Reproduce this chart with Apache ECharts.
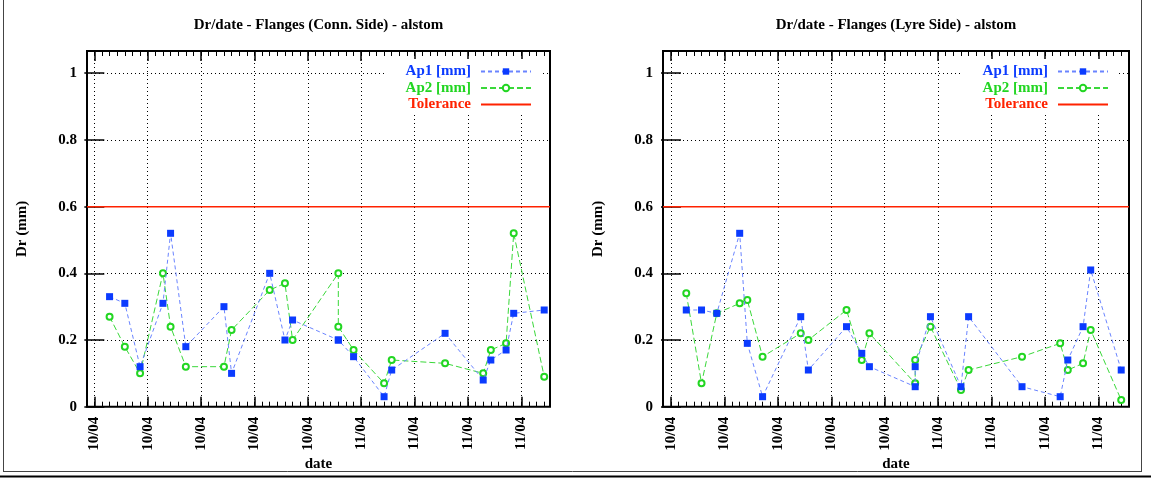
<!DOCTYPE html>
<html>
<head>
<meta charset="utf-8">
<script src="https://cdn.jsdelivr.net/npm/echarts@6/dist/echarts.min.js"></script>
<style>
  html, body { margin: 0; padding: 0; background: #fff; }
  #chart { width: 1151px; height: 478px; }
</style>
</head>
<body>
<div id="chart"></div>
<script>
// Measurement dates, as day offsets from the first labelled week tick
const days = [2, 4, 6, 9, 10, 12, 17, 18, 23, 25, 26, 32, 32, 34, 38, 39, 46, 51, 52, 54, 55, 59];

// Connection-side flanges (mm)
const connAp1 = [0.33, 0.31, 0.12, 0.31, 0.52, 0.18, 0.30, 0.10, 0.40, 0.20, 0.26, 0.20, 0.20, 0.15, 0.03, 0.11, 0.22, 0.08, 0.14, 0.17, 0.28, 0.29];
const connAp2 = [0.27, 0.18, 0.10, 0.40, 0.24, 0.12, 0.12, 0.23, 0.35, 0.37, 0.20, 0.40, 0.24, 0.17, 0.07, 0.14, 0.13, 0.10, 0.17, 0.19, 0.52, 0.09];

// Lyre-side flanges (mm)
const lyreAp1 = [0.29, 0.29, 0.28, 0.52, 0.19, 0.03, 0.27, 0.11, 0.24, 0.16, 0.12, 0.06, 0.12, 0.27, 0.06, 0.27, 0.06, 0.03, 0.14, 0.24, 0.41, 0.11];
const lyreAp2 = [0.34, 0.07, 0.28, 0.31, 0.32, 0.15, 0.22, 0.20, 0.29, 0.14, 0.22, 0.07, 0.14, 0.24, 0.05, 0.11, 0.15, 0.19, 0.11, 0.13, 0.23, 0.02];

const tolerance = 0.6;

// Weekly major ticks and their labels
const tickDays = [0, 7, 14, 21, 28, 35, 42, 49, 56];
const tickLabels = ['10/04', '10/04', '10/04', '10/04', '10/04', '11/04', '11/04', '11/04', '11/04'];
const yTicks = [0, 0.2, 0.4, 0.6, 0.8, 1];

const FONT = "'Liberation Serif', 'DejaVu Serif', serif";
const C_AP1 = '#0b3bff', C_AP1_LINE = '#6a84ff';
const C_AP2 = '#22d622', C_AP2_LINE = '#3ad83a';
const C_TOL = '#ff2200';
const NAME1 = 'Ap1 [mm]', NAME2 = 'Ap2 [mm]', NAME3 = 'Tolerance';

const panels = [
  { title: 'Dr/date - Flanges (Conn. Side) - alstom', ap1: connAp1, ap2: connAp2,
    xMin: -0.96, xMax: 59.76, left: 87, width: 463, legendRight: 610 },
  { title: 'Dr/date - Flanges (Lyre Side) - alstom', ap1: lyreAp1, ap2: lyreAp2,
    xMin: -1.05, xMax: 60.02, left: 663, width: 466, legendRight: 33 }
];
const GRID_TOP = 51, GRID_H = 355.7, Y_MAX = 1.0667;

const grids = [], xAxes = [], yAxes = [], series = [], legends = [], graphics = [];

panels.forEach((p, i) => {
  const minorDays = [];
  for (let d = Math.ceil(p.xMin); d <= Math.floor(p.xMax); d++) minorDays.push(d);

  grids.push({
    left: p.left, top: GRID_TOP, width: p.width, height: GRID_H,
    show: true, borderColor: '#000', borderWidth: 2, backgroundColor: 'transparent',
    containLabel: false, outerBoundsMode: 'none'
  });

  const baseX = {
    type: 'value', gridIndex: i, min: p.xMin, max: p.xMax,
    axisLine: { show: false }, splitLine: { show: false },
    axisLabel: { show: false }, axisTick: { show: false }
  };
  // bottom: major ticks, labels, grid lines
  xAxes.push(Object.assign({}, baseX, {
    position: 'bottom',
    axisTick: { show: true, inside: true, length: 10, customValues: tickDays,
      lineStyle: { color: '#000', width: 1.5 } },
    axisLabel: { show: true, customValues: tickDays, rotate: 90, margin: 10,
      color: '#000', fontFamily: FONT, fontWeight: 'bold', fontSize: 15,
      formatter: v => tickLabels[tickDays.indexOf(v)] },
    splitLine: { show: true, lineStyle: { color: '#000', width: 1, type: [1, 3] } }
  }));
  // bottom: daily minor ticks
  xAxes.push(Object.assign({}, baseX, {
    position: 'bottom',
    axisTick: { show: true, inside: true, length: 5, customValues: minorDays,
      lineStyle: { color: '#000', width: 1 } }
  }));
  // top mirror: major + minor ticks
  xAxes.push(Object.assign({}, baseX, {
    position: 'top',
    axisTick: { show: true, inside: true, length: 10, customValues: tickDays,
      lineStyle: { color: '#000', width: 1.5 } }
  }));
  xAxes.push(Object.assign({}, baseX, {
    position: 'top',
    axisTick: { show: true, inside: true, length: 5, customValues: minorDays,
      lineStyle: { color: '#000', width: 1 } }
  }));

  yAxes.push({
    type: 'value', gridIndex: i, min: 0, max: Y_MAX, position: 'left',
    axisLine: { show: false },
    axisTick: { show: true, inside: true, length: 10, customValues: yTicks,
      lineStyle: { color: '#000', width: 1.5 } },
    axisLabel: { show: true, customValues: yTicks, margin: 10, color: '#000',
      fontFamily: FONT, fontWeight: 'bold', fontSize: 15 },
    splitLine: { show: true, lineStyle: { color: '#000', width: 1, type: [1, 3] } }
  });
  yAxes.push({
    type: 'value', gridIndex: i, min: 0, max: Y_MAX, position: 'right',
    axisLine: { show: false }, splitLine: { show: false }, axisLabel: { show: false },
    axisTick: { show: true, inside: true, length: 10, customValues: yTicks,
      lineStyle: { color: '#000', width: 1.5 } }
  });

  const xi = i * 4, yi = i * 2;
  series.push({
    type: 'line', name: NAME1, xAxisIndex: xi, yAxisIndex: yi,
    data: days.map((d, k) => [d, p.ap1[k]]),
    symbol: 'rect', symbolSize: 7, z: 4,
    itemStyle: { color: C_AP1 },
    lineStyle: { color: C_AP1_LINE, width: 1, type: [4, 3] }
  });
  series.push({
    type: 'line', name: NAME2, xAxisIndex: xi, yAxisIndex: yi,
    data: days.map((d, k) => [d, p.ap2[k]]),
    symbol: 'emptyCircle', symbolSize: 6, z: 3,
    itemStyle: { color: C_AP2, borderWidth: 1 },
    lineStyle: { color: C_AP2_LINE, width: 1, type: [6, 3] }
  });
  series.push({
    type: 'line', name: NAME3, xAxisIndex: xi, yAxisIndex: yi,
    data: [[p.xMin, tolerance], [p.xMax, tolerance]],
    symbol: 'none', z: 2,
    itemStyle: { color: C_TOL },
    lineStyle: { color: C_TOL, width: 1.5 }
  });

  legends.push({
    orient: 'vertical', align: 'right', right: p.legendRight, top: 59,
    itemWidth: 50, itemHeight: 8, itemGap: 1.5, padding: [5, 9, 0, 21],
    backgroundColor: '#fff', selectedMode: false,
    textStyle: { fontFamily: FONT, fontWeight: 'bold', fontSize: 15, padding: [0, 5, 0, 0] },
    data: [
      { name: NAME1, textStyle: { color: C_AP1 } },
      { name: NAME2, textStyle: { color: C_AP2 } },
      { name: NAME3, textStyle: { color: C_TOL }, itemStyle: { opacity: 0 } }
    ]
  });

  const cx = p.left + p.width / 2;
  const cy = GRID_TOP + GRID_H / 2;
  const textEl = (text, x, y, rotation) => ({
    type: 'text', x: x, y: y, rotation: rotation || 0, z: 10,
    style: { text: text, fill: '#000', font: 'bold 15px ' + FONT,
      textAlign: 'center', textVerticalAlign: 'middle', align: 'center', verticalAlign: 'middle' }
  });
  graphics.push(textEl(p.title, cx, 25));
  graphics.push(textEl('date', cx, 464));
  graphics.push(textEl('Dr (mm)', p.left - 65, cy, Math.PI / 2));
});

// page frame
const lineEl = (x1, y1, x2, y2, w, c) => ({
  type: 'line', shape: { x1: x1, y1: y1, x2: x2, y2: y2 },
  style: { stroke: c, lineWidth: w }, z: 10
});
graphics.push(lineEl(3.5, 0, 3.5, 471.5, 1, '#444'));
graphics.push(lineEl(1141.5, 0, 1141.5, 471.5, 1, '#444'));
graphics.push(lineEl(3, 471.5, 1142, 471.5, 1, '#444'));
graphics.push(lineEl(0, 476.5, 1151, 476.5, 2, '#000'));

const chart = echarts.init(document.getElementById('chart'), null, { renderer: 'canvas' });
chart.setOption({
  animation: false,
  backgroundColor: '#fff',
  grid: grids,
  xAxis: xAxes,
  yAxis: yAxes,
  legend: legends,
  series: series,
  graphic: graphics
});
</script>
</body>
</html>
